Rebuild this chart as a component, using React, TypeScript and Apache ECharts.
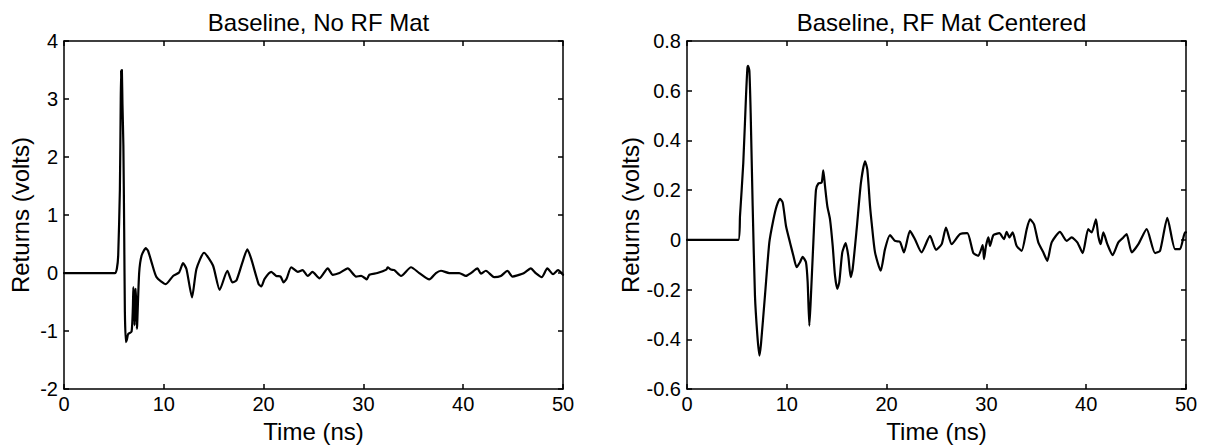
import React, { useEffect, useRef } from "react";
import * as echarts from "echarts";

const leftTitle = "Baseline, No RF Mat";
const rightTitle = "Baseline, RF Mat Centered";
const xName = "Time (ns)";
const yName = "Returns (volts)";

const leftTimes = [
  0, 5.1, 5.3, 5.43, 5.6, 5.68, 5.72, 5.76, 5.8, 5.86, 5.95, 6.03, 6.1, 6.2, 6.3, 6.43, 6.77, 6.9, 6.95, 7.07,
  7.15, 7.2, 7.3, 7.33, 7.53, 7.77, 8.2, 8.43, 8.77, 9.27, 10.2, 10.93, 11.53, 11.93, 12.27, 12.83, 13.27, 14.03,
  14.93, 15.6, 16.37, 16.87, 17.27, 17.87, 18.37, 18.77, 19.5, 19.77, 20.1, 20.77, 21.27, 21.7, 22.0, 22.3,
  22.77, 23.43, 23.9, 24.43, 24.9, 25.6, 26.43, 26.93, 27.6, 28.43, 29.27, 29.77, 30.1, 30.33, 30.6, 31.4,
  32.3, 32.43, 32.77, 33.1, 33.77, 34.77, 35.6, 36.6, 37.27, 37.77, 38.6, 39.6, 40.27, 40.77, 41.43, 41.77,
  42.27, 43.1, 43.77, 44.43, 44.93, 45.43, 46.1, 46.77, 47.27, 47.87, 48.43, 49.0, 49.5, 50,
];
const leftVolts = [
  0, 0, 0.08, 0.3, 1.44, 2.9, 3.5, 2.9, 3.5, 2.9, 2.2, 0.75, -0.67, -1.19, -1.15, -1.05, -1.01, -0.6, -0.24, -0.9,
  -0.3, -0.27, -0.96, -0.9, 0.0, 0.3, 0.43, 0.38, 0.19, -0.07, -0.19, -0.05, 0.01, 0.17, 0.07, -0.42, 0.07, 0.35,
  0.13, -0.29, 0.04, -0.16, -0.13, 0.18, 0.41, 0.24, -0.19, -0.23, -0.1, 0.02, -0.05, -0.06, -0.16, -0.1,
  0.1, 0.02, 0.05, -0.05, 0.02, -0.09, 0.08, -0.03, 0.0, 0.08, -0.06, -0.05, -0.08, -0.11, -0.03, 0.0,
  0.06, 0.1, 0.06, 0.05, -0.05, 0.1, 0.0, -0.11, 0.0, 0.04, 0.0, 0.0, -0.05, 0.0, 0.08, -0.01,
  0.04, -0.07, -0.05, 0.04, -0.06, -0.04, 0.0, 0.08, 0.0, -0.07, 0.08, -0.02, 0.05, -0.03,
];

const rightTimes = [
  0, 5.14, 5.31, 5.64, 5.91, 6.05, 6.12, 6.25, 6.38, 6.58, 6.81, 7.05, 7.25, 7.41, 7.82, 8.25, 8.65, 8.98, 9.32,
  9.59, 9.92, 10.32, 10.66, 10.99, 11.32, 11.59, 11.92, 12.09, 12.26, 12.39, 12.66, 12.92, 13.16, 13.49, 13.66,
  13.83, 14.06, 14.33, 14.6, 14.83, 15.06, 15.26, 15.56, 15.9, 16.16, 16.4, 16.6, 17.0, 17.43, 17.84, 18.07,
  18.34, 18.5, 18.84, 19.41, 19.84, 20.34, 20.84, 21.34, 21.74, 22.34, 22.84, 23.5, 24.35, 24.95, 25.52, 25.95,
  26.52, 27.35, 28.09, 28.69, 29.19, 29.63, 29.76, 29.96, 30.2, 30.36, 30.7, 31.3, 31.76, 32.03, 32.3, 32.63,
  33.03, 33.53, 34.04, 34.37, 34.77, 35.2, 35.7, 36.1, 36.54, 37.37, 38.04, 38.54, 39.11, 39.65, 40.2, 40.55,
  40.98, 41.21, 41.45, 41.72, 42.12, 42.65, 43.22, 43.72, 44.05, 44.56, 45.23, 46.06, 46.9, 47.4, 48.13, 48.9,
  49.4, 49.9, 50,
];
const rightVolts = [
  0, 0, 0.096, 0.31, 0.576, 0.69, 0.7, 0.68, 0.51, 0.136, -0.224, -0.384, -0.465, -0.42, -0.22, -0.01, 0.08,
  0.136, 0.165, 0.15, 0.056, -0.01, -0.064, -0.11, -0.09, -0.068, -0.09, -0.17, -0.345, -0.25, -0.01, 0.2, 0.227,
  0.23, 0.28, 0.216, 0.136, 0.083, -0.024, -0.144, -0.197, -0.17, -0.05, -0.013, -0.064, -0.15, -0.117, 0.043,
  0.23, 0.316, 0.283, 0.136, 0.07, -0.05, -0.124, -0.037, 0.019, -0.004, -0.008, -0.05, 0.036, 0.003, -0.05,
  0.016, -0.04, -0.017, 0.05, -0.017, 0.023, 0.027, -0.053, -0.064, -0.021, -0.077, -0.024, 0.01, -0.024, 0.019,
  0.027, 0.003, 0.032, 0.01, 0.03, -0.024, -0.044, 0.043, 0.083, 0.063, -0.01, -0.05, -0.084, -0.01, 0.032,
  -0.004, 0.01, -0.01, -0.053, 0.043, 0.03, 0.083, 0.016, -0.017, 0.03, -0.017, -0.061, -0.01, 0.01, 0.023,
  -0.05, -0.017, 0.043, -0.053, -0.044, 0.089, -0.037, -0.037, 0.03, 0.03,
];

const leftYRange = { min: -2, max: 4, interval: 1 };
const rightYRange = { min: -0.6, max: 0.8, interval: 0.2 };
const xRange = { min: 0, max: 50, interval: 10 };

export default function App() {
  const ref = useRef<HTMLDivElement>(null);
  useEffect(() => {
    if (!ref.current) return;
    const chart = echarts.init(ref.current, null, { renderer: "svg" });
    const font = "'Liberation Sans', Arial, Helvetica, sans-serif";
    const tickFont = 20;
    const nameFont = 24;
    const lineStyle = { color: "#000", width: 1.5 };
    const tick = { show: true, inside: true, length: 5, lineStyle };
    const grids = [
      { left: 64, top: 41, width: 499, height: 350 },
      { left: 687, top: 41, width: 499, height: 350 },
    ];
    const yRanges = [leftYRange, rightYRange];
    const titles = [leftTitle, rightTitle];
    const xAxes: any[] = [];
    const yAxes: any[] = [];
    grids.forEach((g, i) => {
      xAxes.push({
        type: "value", gridIndex: i, position: "bottom", ...xRange,
        axisLine: { show: true, onZero: false, lineStyle }, axisTick: tick,
        axisLabel: { color: "#000", fontSize: tickFont, fontFamily: font, margin: 5 },
        splitLine: { show: false },
        name: xName, nameLocation: "middle", nameGap: 27,
        nameTextStyle: { color: "#000", fontSize: nameFont, fontFamily: font },
      });
      xAxes.push({
        type: "value", gridIndex: i, position: "top", ...xRange,
        axisLine: { show: true, onZero: false, lineStyle }, axisTick: tick,
        axisLabel: { show: false }, splitLine: { show: false },
      });
      yAxes.push({
        type: "value", gridIndex: i, position: "left", ...yRanges[i],
        axisLine: { show: true, onZero: false, lineStyle }, axisTick: tick,
        axisLabel: { color: "#000", fontSize: tickFont, fontFamily: font, margin: 6 },
        splitLine: { show: false },
        name: yName, nameLocation: "middle", nameGap: 32, nameRotate: 90,
        nameTextStyle: { color: "#000", fontSize: nameFont, fontFamily: font },
      });
      yAxes.push({
        type: "value", gridIndex: i, position: "right", ...yRanges[i],
        axisLine: { show: true, onZero: false, lineStyle }, axisTick: tick,
        axisLabel: { show: false }, splitLine: { show: false },
      });
    });
    const seriesData = [
      leftTimes.map((t, k) => [t, leftVolts[k]]),
      rightTimes.map((t, k) => [t, rightVolts[k]]),
    ];
    chart.setOption({
      animation: false,
      backgroundColor: "#fff",
      title: titles.map((text, i) => ({
        text,
        left: grids[i].left + grids[i].width / 2,
        top: 5,
        textAlign: "center",
        textStyle: { color: "#000", fontSize: nameFont, fontWeight: "normal", fontFamily: font },
      })),
      grid: grids,
      xAxis: xAxes,
      yAxis: yAxes,
      series: seriesData.map((data, i) => ({
        type: "line",
        xAxisIndex: 2 * i,
        yAxisIndex: 2 * i,
        data,
        showSymbol: false,
        symbol: "none",
        smooth: 0.2,
        lineStyle: { color: "#000", width: 2.2, join: "round", cap: "round" },
        clip: true,
      })),
    });
    return () => chart.dispose();
  }, []);
  return (
    <div
      ref={ref}
      style={{ position: "absolute", left: 0, top: 0, width: 1207, height: 448, background: "#fff" }}
    />
  );
}
